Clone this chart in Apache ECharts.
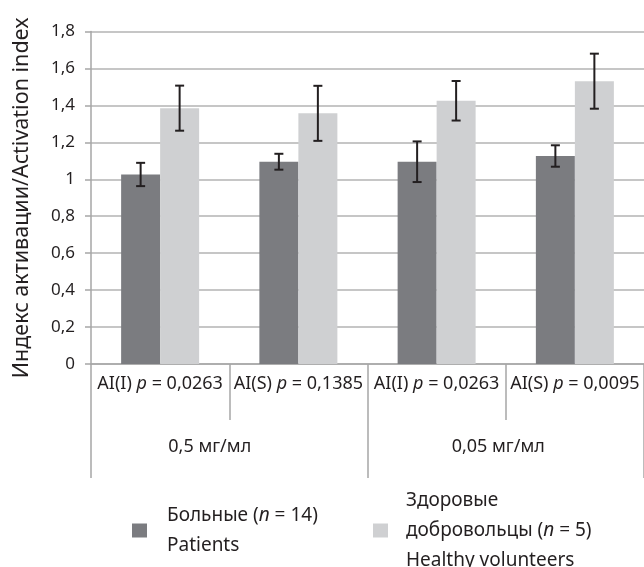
<!DOCTYPE html>
<html>
<head>
<meta charset="utf-8">
<script src="https://cdn.jsdelivr.net/npm/echarts@6/dist/echarts.min.js"></script>
<style>html,body{margin:0;padding:0;background:#fff}#c{width:644px;height:567px}</style>
</head>
<body>
<div id="c"></div>
<script>
var categories = ['AI(I)|0,0263', 'AI(S)|0,1385', 'AI(I)|0,0263', 'AI(S)|0,0095'];
var groups = ['0,5 мг/мл', '0,05 мг/мл'];
var patientsMean = [1.026, 1.095, 1.095, 1.126];
var patientsErr = [0.063, 0.043, 0.11, 0.058];
var volunteersMean = [1.385, 1.357, 1.425, 1.531];
var volunteersErr = [0.122, 0.149, 0.107, 0.149];
var yTicks = [0, 0.2, 0.4, 0.6, 0.8, 1, 1.2, 1.4, 1.6, 1.8];

var FONT = '"Noto Sans", sans-serif';
var TXT = '#231f20';
var BW = 39;
var AX = '#a6a6a6';

function errSeries(name, means, errs, sign) {
  return {
    type: 'custom',
    name: name + '_err',
    xAxisIndex: 0,
    yAxisIndex: 0,
    z: 10,
    silent: true,
    data: means.map(function (m, i) { return [i, m - errs[i], m + errs[i]]; }),
    renderItem: function (params, api) {
      var lo = api.coord([api.value(0), api.value(1)]);
      var hi = api.coord([api.value(0), api.value(2)]);
      var x = lo[0] + sign * BW / 2;
      var cap = 4.5;
      var st = { stroke: '#231f20', lineWidth: 2 };
      return {
        type: 'group',
        children: [
          { type: 'line', shape: { x1: x, y1: lo[1], x2: x, y2: hi[1] }, style: st },
          { type: 'line', shape: { x1: x - cap, y1: lo[1], x2: x + cap, y2: lo[1] }, style: st },
          { type: 'line', shape: { x1: x - cap, y1: hi[1], x2: x + cap, y2: hi[1] }, style: st }
        ]
      };
    }
  };
}

var LF = 19;
var legendRich = {
  a: { fontFamily: FONT, fontSize: LF, color: TXT, lineHeight: 30 },
  i: { fontFamily: FONT, fontSize: LF, color: TXT, fontStyle: 'italic', lineHeight: 30 }
};

var chart = echarts.init(document.getElementById('c'), null, { renderer: 'canvas' });
chart.setOption({
  animation: false,
  backgroundColor: '#fff',
  textStyle: { fontFamily: FONT, color: TXT },
  grid: { left: 91, top: 31.5, width: 554, bottom: 203, containLabel: false },
  legend: [
    {
      data: ['patients'], left: 132, top: 506, padding: 0,
      itemWidth: 15, itemHeight: 14, icon: 'rect',
      formatter: function () { return '{a|Больные (}{i|n}{a| = 14)}\n{a|Patients}'; },
      textStyle: { padding: [0, 0, 0, 15], rich: legendRich }
    },
    {
      data: ['volunteers'], left: 373, top: 491, padding: 0,
      itemWidth: 15, itemHeight: 14, icon: 'rect',
      formatter: function () { return '{a|Здоровые}\n{a|добровольцы (}{i|n}{a| = 5)}\n{a|Healthy volunteers}'; },
      textStyle: { padding: [0, 0, 0, 13], rich: legendRich }
    }
  ],
  xAxis: [
    {
      type: 'category',
      data: categories,
      position: 'bottom',
      axisLine: { show: true, lineStyle: { color: AX, width: 1.5 } },
      axisTick: { show: true, interval: 0, length: 56, lineStyle: { color: AX, width: 1.5 } },
      axisLabel: {
        interval: 0, margin: 11,
        formatter: function (v) {
          var p = v.split('|');
          return '{a|' + p[0] + ' }{i|p}{a| = ' + p[1] + '}';
        },
        rich: {
          a: { fontFamily: FONT, fontSize: 18, color: TXT },
          i: { fontFamily: FONT, fontSize: 18, color: TXT, fontStyle: 'italic' }
        }
      },
      splitLine: { show: false }
    },
    {
      type: 'category',
      data: groups,
      position: 'bottom',
      offset: 0,
      axisLine: { show: false },
      axisTick: { show: true, interval: 0, length: 114, lineStyle: { color: AX, width: 1.5 } },
      axisLabel: {
        interval: 0, margin: 74,
        formatter: function (v, i) { return '{g' + i + '|' + v + '}'; },
        rich: {
          g0: { fontFamily: FONT, fontSize: 18, color: TXT, padding: [0, 39, 0, 0] },
          g1: { fontFamily: FONT, fontSize: 18, color: TXT, padding: [0, 15, 0, 0] }
        }
      },
      splitLine: { show: false }
    }
  ],
  yAxis: {
    type: 'value',
    min: 0, max: 1.8, interval: 0.2,
    name: 'Индекс активации/Activation index',
    nameLocation: 'middle',
    nameGap: 58,
    nameTextStyle: { fontFamily: FONT, fontSize: 21.5, color: TXT },
    axisLine: { show: true, lineStyle: { color: AX, width: 1.5 } },
    axisTick: { show: true, length: 6, lineStyle: { color: AX, width: 1.5 } },
    axisLabel: {
      margin: 16, fontFamily: FONT, fontSize: 17, color: TXT,
      formatter: function (v) {
        var t = yTicks.filter(function (k) { return Math.abs(k - v) < 1e-9; });
        var val = t.length ? t[0] : v;
        return String(Math.round(val * 10) / 10).replace('.', ',');
      }
    },
    splitLine: { show: true, lineStyle: { color: '#b3b3b3', width: 1.5 } }
  },
  series: [
    {
      name: 'patients', type: 'bar', data: patientsMean,
      barWidth: BW, barGap: '0%',
      itemStyle: { color: '#7b7c80' }
    },
    {
      name: 'volunteers', type: 'bar', data: volunteersMean,
      barWidth: BW, barGap: '0%',
      itemStyle: { color: '#cfd0d2' }
    },
    errSeries('patients', patientsMean, patientsErr, -1),
    errSeries('volunteers', volunteersMean, volunteersErr, 1)
  ]
});
</script>
</body>
</html>
